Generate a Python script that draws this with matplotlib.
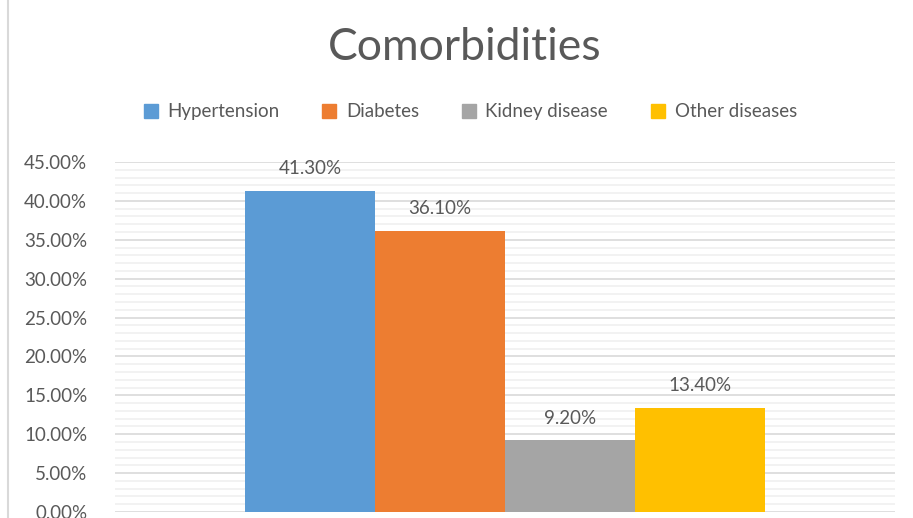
import matplotlib.pyplot as plt
from matplotlib.ticker import MultipleLocator, FuncFormatter
from matplotlib.patches import Patch
from matplotlib.lines import Line2D

categories = ["Hypertension", "Diabetes", "Kidney disease", "Other diseases"]
values = [41.30, 36.10, 9.20, 13.40]
colors = ["#5B9BD5", "#ED7D31", "#A5A5A5", "#FFC000"]

plt.rcParams['font.family'] = ['Lato', 'DejaVu Sans']
txt = "#595959"

fig = plt.figure(figsize=(9.13, 5.18), dpi=100)
ax = fig.add_axes([0.126, 0.0116, 0.854, 0.6757])

xs = list(range(len(values)))
ax.bar(xs, values, width=1.0, color=colors, zorder=3)
for x, v in zip(xs, values):
	ax.annotate(f"{v:.2f}%", (x, v), xytext=(0, 10), textcoords="offset points",
				ha="center", va="bottom", fontsize=13.5, color=txt)

ax.set_xlim(-1.5, 4.5)
ax.set_ylim(0, 45)
ax.yaxis.set_major_locator(MultipleLocator(5))
ax.yaxis.set_minor_locator(MultipleLocator(1))
ax.yaxis.set_major_formatter(FuncFormatter(lambda v, p: f"{v:.2f}%"))
ax.grid(axis="y", which="major", color="#D9D9D9", linewidth=1.2, zorder=0)
ax.grid(axis="y", which="minor", color="#F0F0F0", linewidth=1.2, zorder=0)
ax.set_xticks([])
ax.tick_params(axis="y", which="both", length=0, pad=20, labelsize=13.5, labelcolor=txt)
for s in ax.spines.values():
	s.set_visible(False)

fig.text(0.509, 0.908, "Comorbidities", ha="center", va="center", fontsize=32, color=txt)

handles = [Patch(color=c, label=l) for c, l in zip(colors, categories)]
fig.legend(handles=handles, loc="center", bbox_to_anchor=(0.515, 0.784), ncol=4,
		   frameon=False, fontsize=13.5, handlelength=0.75, handleheight=0.75,
		   handletextpad=0.5, columnspacing=2.3, labelcolor=txt)

fig.add_artist(Line2D([0.009, 0.009], [0, 1], color="#D9D9D9", linewidth=1.5))

fig.savefig("out.png", dpi=100)
